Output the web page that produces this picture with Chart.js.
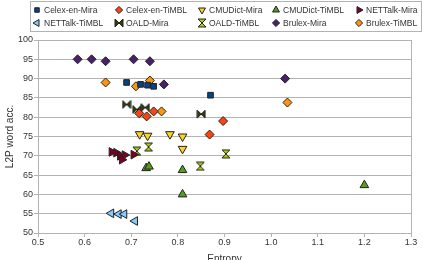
<!DOCTYPE html>
<html>
<head>
<meta charset="utf-8">
<script src="https://cdn.jsdelivr.net/npm/chart.js@4.4.0/dist/chart.umd.min.js"></script>
<style>
  html, body { margin: 0; padding: 0; background: #fff; }
  #wrap { width: 423px; height: 260px; position: relative; }
</style>
</head>
<body>
<div id="wrap"><canvas id="c" width="423" height="260"></canvas></div>
<script>
// series names (legend order)
var seriesNames = [
  "Celex-en-Mira", "Celex-en-TiMBL", "CMUDict-Mira", "CMUDict-TiMBL", "NETTalk-Mira",
  "NETTalk-TiMBL", "OALD-Mira", "OALD-TiMBL", "Brulex-Mira", "Brulex-TiMBL"
];

// entropy (x) / L2P word accuracy (y)
var celexMiraX   = [0.69, 0.72, 0.735, 0.748, 0.87];
var celexMiraY   = [89.0, 88.5, 88.3, 88.0, 85.7];
var celexTimblX  = [0.717, 0.733, 0.748, 0.868, 0.897];
var celexTimblY  = [81.0, 80.2, 81.5, 75.5, 79.0];
var cmuMiraX     = [0.718, 0.735, 0.783, 0.81, 0.81];
var cmuMiraY     = [75.6, 75.2, 75.6, 75.0, 71.8];
var cmuTimblX    = [0.732, 0.738, 0.81, 0.81, 1.2];
var cmuTimblY    = [66.8, 67.2, 66.3, 60.0, 62.4];
var netMiraX     = [0.658, 0.668, 0.676, 0.686, 0.68, 0.705];
var netMiraY     = [71.0, 70.8, 70.0, 70.2, 69.0, 70.3];
var netTimblX    = [0.657, 0.673, 0.685, 0.708];
var netTimblY    = [55.1, 54.9, 54.9, 53.1];
var oaldMiraX    = [0.69, 0.712, 0.73, 0.85];
var oaldMiraY    = [83.3, 82.0, 82.5, 80.8];
var oaldTimblX   = [0.712, 0.737, 0.848, 0.903];
var oaldTimblY   = [71.2, 72.3, 67.3, 70.5];
var brulexMiraX  = [0.585, 0.615, 0.645, 0.705, 0.74, 0.77, 1.03];
var brulexMiraY  = [95.0, 95.0, 94.5, 95.0, 94.5, 88.5, 90.0];
var brulexTimblX = [0.645, 0.71, 0.74, 0.765, 1.035];
var brulexTimblY = [89.0, 88.0, 89.5, 81.5, 83.8];

var seriesColors = ["#004586", "#ff420e", "#ffd320", "#579d1c", "#7e0021",
                    "#83caff", "#314004", "#aecf00", "#4b1f6f", "#ff950e"];

// bowtie / hourglass markers are not built in, so draw them on small canvases
var makeMarker = function( kind, fill ){
    var cv = document.createElement("canvas");
    cv.width = 10; cv.height = 10;
    var g = cv.getContext("2d");
    g.beginPath();
    if( kind == "bowtie" ){
        g.moveTo(1,1); g.lineTo(5,5); g.lineTo(1,9); g.closePath();
        g.moveTo(9,1); g.lineTo(5,5); g.lineTo(9,9); g.closePath();
    }else{
        g.moveTo(1,1); g.lineTo(9,1); g.lineTo(5,5); g.closePath();
        g.moveTo(1,9); g.lineTo(9,9); g.lineTo(5,5); g.closePath();
    }
    g.fillStyle = fill;
    g.fill();
    g.strokeStyle = "#222";
    g.lineWidth = 1;
    g.stroke();
    return cv;
};

var pts = function( xs, ys ){
    var out = [];
    for( var i=0; i<xs.length; i++ ){ out.push({ x: xs[i], y: ys[i] }); }
    return out;
};

var styles = [
    { s: "rect",     r: 4,   rot: 0 },
    { s: "rectRot",  r: 4.5, rot: 0 },
    { s: "triangle", r: 5,   rot: 180 },
    { s: "triangle", r: 5,   rot: 0 },
    { s: "triangle", r: 5,   rot: 90 },
    { s: "triangle", r: 5,   rot: 270 },
    { s: makeMarker("bowtie", seriesColors[6]),    r: 5, rot: 0 },
    { s: makeMarker("hourglass", seriesColors[7]), r: 5, rot: 0 },
    { s: "rectRot",  r: 4.5, rot: 0 },
    { s: "rectRot",  r: 4.5, rot: 0 }
];

var allData = [
    pts(celexMiraX, celexMiraY), pts(celexTimblX, celexTimblY),
    pts(cmuMiraX, cmuMiraY), pts(cmuTimblX, cmuTimblY),
    pts(netMiraX, netMiraY), pts(netTimblX, netTimblY),
    pts(oaldMiraX, oaldMiraY), pts(oaldTimblX, oaldTimblY),
    pts(brulexMiraX, brulexMiraY), pts(brulexTimblX, brulexTimblY)
];

var datasets = [];
for( var i=0; i<seriesNames.length; i++ ){
    datasets.push({
        label: seriesNames[i],
        data: allData[i],
        backgroundColor: seriesColors[i],
        borderColor: "#222",
        borderWidth: 1,
        pointStyle: styles[i].s,
        pointRadius: styles[i].r,
        pointHoverRadius: styles[i].r,
        rotation: styles[i].rot
    });
}

// legend drawn as a 5 x 2 grid inside a box, like the original
var legendCols = [37, 119, 202, 276, 359];
var legendRows = [10, 23];
var gridLegend = {
    id: "gridLegend",
    afterDraw: function( chart ){
        var ctx = chart.ctx;
        ctx.save();
        ctx.strokeStyle = "#b3b3b3";
        ctx.lineWidth = 1;
        ctx.strokeRect(30.5, 1.5, 391, 30);
        ctx.font = "8.5px 'Liberation Sans', Arial, sans-serif";
        ctx.textBaseline = "middle";
        ctx.fillStyle = "#333";
        for( var i=0; i<seriesNames.length; i++ ){
            var cx = legendCols[i % 5], cy = legendRows[Math.floor(i / 5)];
            ctx.fillStyle = seriesColors[i];
            ctx.strokeStyle = "#222";
            ctx.lineWidth = 1;
            Chart.helpers.drawPoint(ctx, {
                pointStyle: styles[i].s,
                radius: styles[i].r * 0.8,
                rotation: styles[i].rot,
                borderWidth: 1
            }, cx, cy);
            ctx.fillStyle = "#333";
            ctx.fillText(seriesNames[i], cx + 7, cy + 0.5);
        }
        ctx.restore();
    }
};

var ctx = document.getElementById("c").getContext("2d");
var myChart = new Chart(ctx, {
    type: "scatter",
    data: { datasets: datasets },
    options: {
        responsive: false,
        animation: false,
        layout: { padding: { top: 40, right: 12, left: 0, bottom: 0 } },
        plugins: {
            legend: { display: false },
            tooltip: { enabled: false }
        },
        scales: {
            x: {
                type: "linear",
                min: 0.5, max: 1.3,
                afterFit: function( s ){ s.height = 27; },
                ticks: {
                    stepSize: 0.1,
                    padding: 0,
                    color: "#333",
                    font: { family: "'Liberation Sans', Arial, sans-serif", size: 9 }
                },
                grid: {
                    color: function( c ){ return (c.tick && Math.abs(c.tick.value - 1.3) < 1e-6) ? "#b3b3b3" : "rgba(0,0,0,0)"; },
                    tickColor: "#b3b3b3",
                    tickLength: 4
                },
                border: { color: "#b3b3b3" },
                title: {
                    display: true,
                    text: "Entropy",
                    color: "#333",
                    padding: { top: 0, bottom: -5 },
                    font: { family: "'Liberation Sans', Arial, sans-serif", size: 10 }
                }
            },
            y: {
                type: "linear",
                min: 50, max: 100,
                afterFit: function( s ){ s.width = 38; },
                ticks: {
                    stepSize: 5,
                    padding: 1,
                    color: "#333",
                    font: { family: "'Liberation Sans', Arial, sans-serif", size: 9 }
                },
                grid: { color: "#b3b3b3", tickColor: "#b3b3b3", tickLength: 4 },
                border: { color: "#b3b3b3" },
                title: {
                    display: true,
                    text: "L2P word acc.",
                    color: "#333",
                    padding: { top: 4, bottom: 2 },
                    font: { family: "'Liberation Sans', Arial, sans-serif", size: 10 }
                }
            }
        }
    },
    plugins: [gridLegend]
});
</script>
</body>
</html>
